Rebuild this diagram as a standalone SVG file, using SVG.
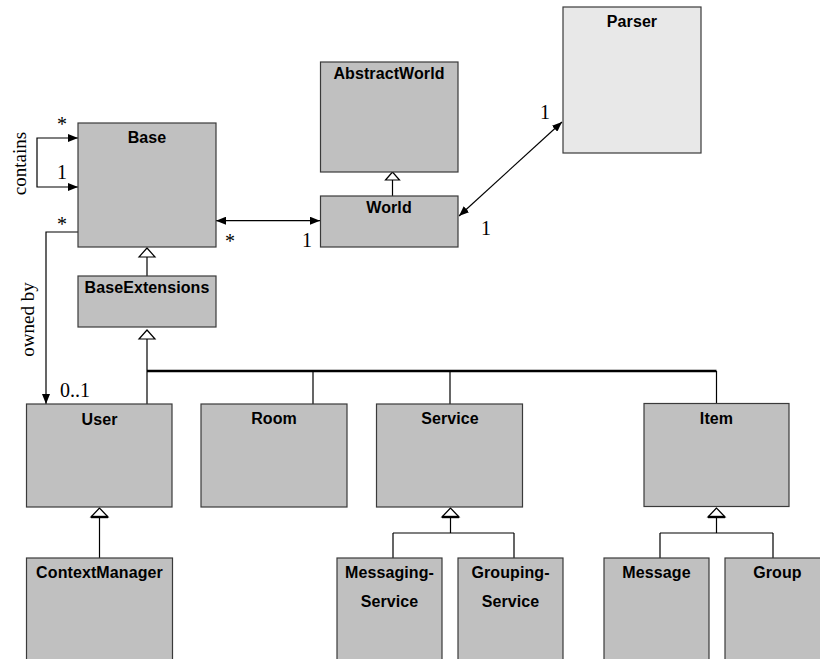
<svg xmlns="http://www.w3.org/2000/svg" width="820" height="659" viewBox="0 0 820 659">
<style>
.box{fill:#c0c0c0;stroke:#3a3a3a;stroke-width:1.2}
.lite{fill:#e8e8e8}
.t{font-family:"Liberation Sans",Arial,sans-serif;font-weight:bold;font-size:16px;letter-spacing:0.1px;fill:#000;text-anchor:middle}
.s{font-family:"Liberation Serif","Times New Roman",serif;font-size:20px;fill:#000}
.w{font-family:"Liberation Serif","Times New Roman",serif;font-size:19px;fill:#000;text-anchor:middle}
.ln{stroke:#000;stroke-width:1.2;fill:none}
.bar{stroke:#000;stroke-width:2.4;fill:none}
.tri{fill:#fff;stroke:#000;stroke-width:1.2}
</style>
<defs>
<marker id="arr" viewBox="0 0 10 8" refX="10" refY="4" markerWidth="10" markerHeight="8" markerUnits="userSpaceOnUse" orient="auto-start-reverse">
<path d="M0,0 L10,4 L0,8 Z" fill="#000"/>
</marker>
</defs>
<rect width="820" height="659" fill="#fff"/>
<g id="connectors">
<path class="ln" d="M78,138 H37 V187 H78" marker-start="url(#arr)" marker-end="url(#arr)"/>
<path class="ln" d="M78,232 H46 V404" marker-end="url(#arr)"/>
<path class="ln" d="M216,220.7 H320" marker-start="url(#arr)" marker-end="url(#arr)"/>
<path class="ln" d="M562,122 L459,216" marker-start="url(#arr)" marker-end="url(#arr)"/>
<path class="ln" d="M392.5,180 V196"/>
<polygon class="tri" points="392.5,172 385.5,180 399.5,180"/>
<path class="ln" d="M147,257 V276"/>
<polygon class="tri" points="147,248 139,257 155,257"/>
<path class="ln" d="M147,339 V404"/>
<polygon class="tri" points="147,330 139,339 155,339"/>
<path class="bar" d="M147,371 H716.5"/>
<path class="ln" d="M313,371 V404 M450,371 V404 M716.5,371 V404"/>
<path class="ln" d="M99.5,517 V558"/>
<polygon class="tri" points="99.5,508 91,517 108,517"/>
<path class="bar" d="M91,517 H108"/>
<path class="ln" d="M450.5,517 V533 M393,533 H514 M393,533 V558 M514,533 V558"/>
<polygon class="tri" points="450.5,508 442,517 459,517"/>
<path class="bar" d="M442,517 H459"/>
<path class="ln" d="M716.5,517 V533 M660,533 H773 M660,533 V558 M773,533 V558"/>
<polygon class="tri" points="716.5,508 708,517 725,517"/>
<path class="bar" d="M708,517 H725"/>
</g>
<g id="labels">
<text class="s" x="57" y="131">*</text>
<text class="s" x="57" y="179">1</text>
<text class="s" x="57" y="231">*</text>
<text class="s" x="60" y="397">0..1</text>
<text class="s" x="225" y="248">*</text>
<text class="s" x="302" y="247">1</text>
<text class="s" x="540" y="119">1</text>
<text class="s" x="481" y="235">1</text>
<text class="w" transform="translate(25.5,163.5) rotate(-90)">contains</text>
<text class="w" transform="translate(34,319.5) rotate(-90)">owned by</text>
</g>
<g id="Base"><rect class="box" x="78" y="123" width="138" height="124"/><text class="t" x="147" y="143">Base</text></g>
<g id="AbstractWorld"><rect class="box" x="320.5" y="62" width="137.5" height="110"/><text class="t" x="389" y="79">AbstractWorld</text></g>
<g id="World"><rect class="box" x="320.5" y="196" width="137.5" height="51"/><text class="t" x="389" y="213">World</text></g>
<g id="Parser"><rect class="box lite" x="563" y="7" width="138" height="146"/><text class="t" x="632" y="27">Parser</text></g>
<g id="BaseExtensions"><rect class="box" x="78" y="276" width="138" height="51"/><text class="t" x="147" y="293">BaseExtensions</text></g>
<g id="User"><rect class="box" x="26.5" y="404" width="145.5" height="103"/><text class="t" x="99.5" y="425">User</text></g>
<g id="Room"><rect class="box" x="201" y="404" width="146" height="103"/><text class="t" x="274" y="424">Room</text></g>
<g id="Service"><rect class="box" x="376.5" y="404" width="146" height="103"/><text class="t" x="450" y="424">Service</text></g>
<g id="Item"><rect class="box" x="644" y="403.5" width="145" height="103"/><text class="t" x="716.5" y="424">Item</text></g>
<g id="ContextManager"><rect class="box" x="26.5" y="558" width="146" height="130"/><text class="t" x="99.5" y="578">ContextManager</text></g>
<g id="MessagingService"><rect class="box" x="337" y="558" width="105" height="130"/><text class="t" x="389.5" y="578">Messaging-</text><text class="t" x="389.5" y="607">Service</text></g>
<g id="GroupingService"><rect class="box" x="458" y="558" width="105" height="130"/><text class="t" x="510.5" y="578">Grouping-</text><text class="t" x="510.5" y="607">Service</text></g>
<g id="Message"><rect class="box" x="604" y="558" width="105" height="130"/><text class="t" x="656.5" y="578">Message</text></g>
<g id="Group"><rect class="box" x="725" y="558" width="105" height="130"/><text class="t" x="777.5" y="578">Group</text></g>
</svg>
